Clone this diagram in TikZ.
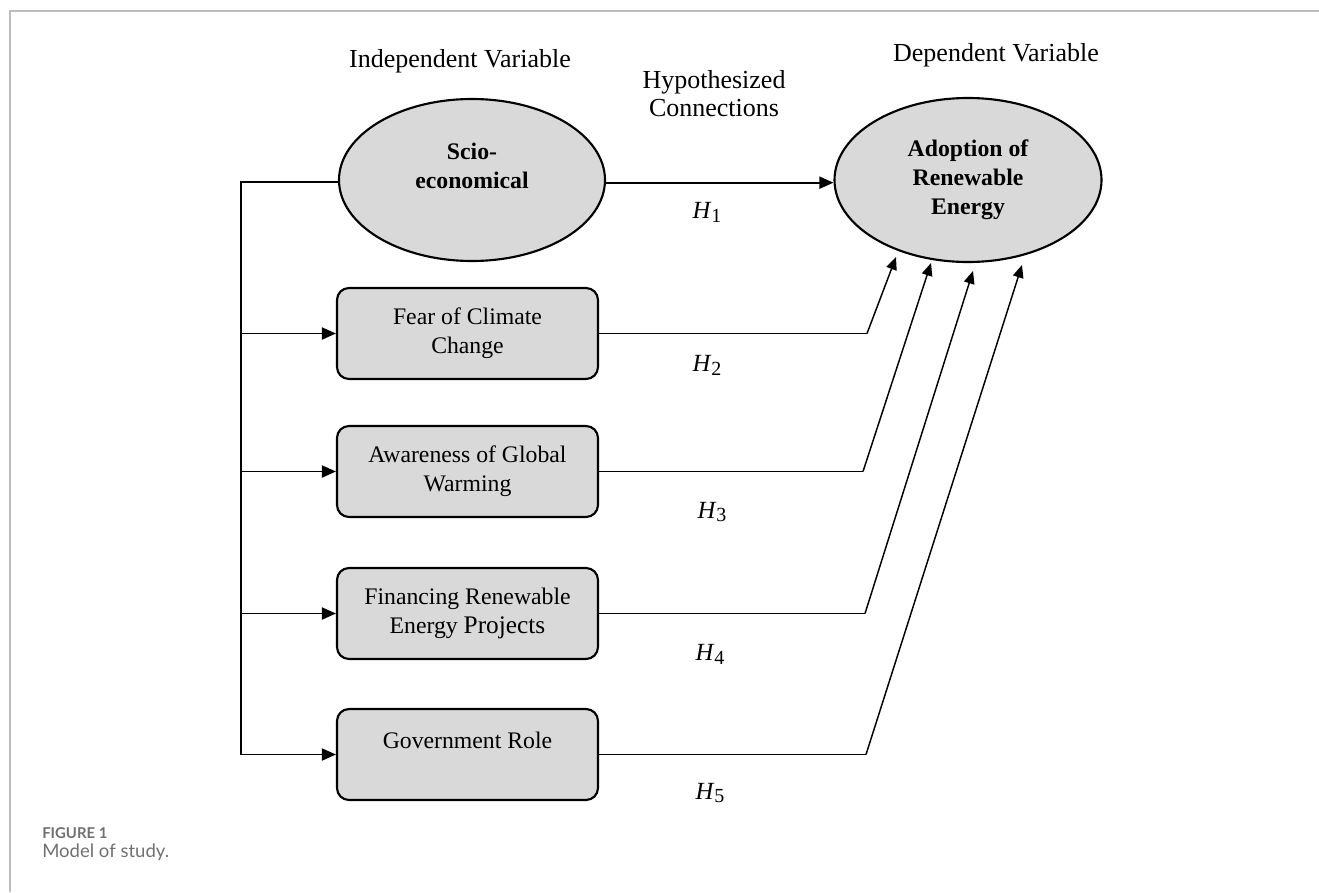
\documentclass[tikz,border=0pt]{standalone}
\usepackage{fontspec}
\setmainfont{Liberation Serif}
\newfontfamily\capfont{Lato}
\usetikzlibrary{arrows.meta,shapes.geometric}
\definecolor{shapefill}{HTML}{D9D9D9}
\definecolor{framegray}{HTML}{BDBDBD}
\definecolor{capgray}{HTML}{707070}
\newcommand\Hlab[1]{\textit{H}\raisebox{-0.35ex}{\fontsize{15}{16}\selectfont #1}}
\begin{document}
\begin{tikzpicture}[x=0.75pt,y=-0.75pt,
  every node/.style={inner sep=0pt},
  oval/.style={ellipse,draw,fill=shapefill,line width=1.6pt,align=center,
    font=\fontsize{17.8}{21.75}\selectfont\bfseries},
  box/.style={rectangle,rounded corners=9pt,draw,fill=shapefill,line width=1.6pt,
    minimum width=195.75pt,minimum height=68.25pt,align=center,
    font=\fontsize{17.8}{21.75}\selectfont},
  head/.style={align=center,font=\fontsize{19.5}{21}\selectfont},
  hlab/.style={font=\fontsize{18.5}{20}\selectfont},
  conn/.style={line width=1.4pt},
  arr/.style={conn,-{Triangle[length=10.5pt,width=9pt]}},
  arrs/.style={line width=1.1pt,-{Triangle[length=9.5pt,width=8pt]}},
  captitle/.style={anchor=west,text=capgray,font=\capfont\bfseries\fontsize{11.2}{12}\selectfont},
  captext/.style={anchor=west,text=capgray,font=\capfont\fontsize{13.9}{15}\selectfont}
]
\useasboundingbox (0,0) rectangle (1319,892);
\draw[framegray,line width=1.2pt] (10,892) -- (10,11) -- (1319,11);

% headers
\node[head] (hind) at (460,61) {Independent Variable};
\node[head] (hhyp) at (714,94) {Hypothesized\\Connections};
\node[head] (hdep) at (996,55) {Dependent Variable};

% main shapes
\node[oval,minimum width=199.5pt,minimum height=121.5pt] (scio) at (472,180) {Scio-\\economical\\\mbox{}};
\node[oval,minimum width=200.25pt,minimum height=123pt] (adopt) at (968,180) {Adoption of\\Renewable\\Energy};

\node[box] (fear) at (467.5,333.5) {Fear of Climate\\Change};
\node[box] (aware) at (467.5,471.5) {Awareness of Global\\Warming};
\node[box] (fin) at (467.5,613.5) {Financing Renewable\\Energy {\fontsize{19}{21.75}\selectfont Projects}};
\node[box] (gov) at (467.5,754.5) {Government Role\\\mbox{}};

% bus on the left
\coordinate (busT) at (241,182);
\coordinate (busB) at (241,754.5);
\draw[conn] ([yshift=-1.5pt]scio.west) -- (busT) -- (busB);
\draw[arr] (busB |- fear.west) -- (fear.west);
\draw[arr] (busB |- aware.west) -- (aware.west);
\draw[arr] (busB |- fin.west) -- (fin.west);
\draw[arr] (busB) -- (gov.west);

% hypothesized connections
\draw[arr] ([yshift=-2pt]scio.east) -- ([yshift=-2pt]adopt.west);

\coordinate (k2) at (867,333.5);
\coordinate (k3) at (863,471.5);
\coordinate (k4) at (865,613.5);
\coordinate (k5) at (866,754.5);
\coordinate (t2) at (896,257);
\coordinate (t3) at (931,263);
\coordinate (t4) at (973,271);
\coordinate (t5) at (1022,265);

\draw[conn] (fear.east) -- (k2);
\draw[arrs] (k2) -- (t2);
\draw[conn] (aware.east) -- (k3);
\draw[arrs] (k3) -- (t3);
\draw[conn] (fin.east) -- (k4);
\draw[arrs] (k4) -- (t4);
\draw[conn] (gov.east) -- (k5);
\draw[arrs] (k5) -- (t5);

% labels
\node[hlab] (h1) at (707,212) {\Hlab{1}};
\node[hlab] (h2) at (707,365) {\Hlab{2}};
\node[hlab] (h3) at (712,512) {\Hlab{3}};
\node[hlab] (h4) at (710,654) {\Hlab{4}};
\node[hlab] (h5) at (710,793) {\Hlab{5}};

% caption
\node[captitle] (figno) at (42,833) {FIGURE 1};
\node[captext] (figcap) at (42,852) {Model of study.};
\end{tikzpicture}
\end{document}
